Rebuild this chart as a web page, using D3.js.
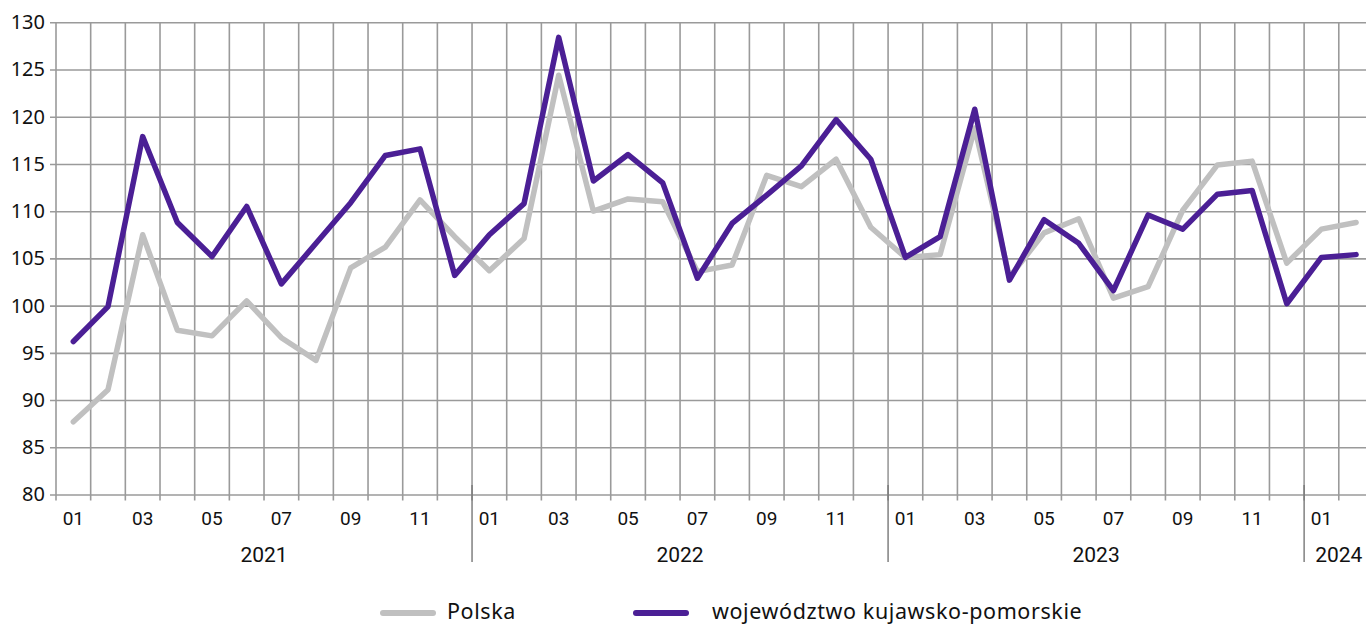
<!DOCTYPE html>
<html><head><meta charset="utf-8">
<script src="https://cdn.jsdelivr.net/npm/d3@7"></script>
<style>body{margin:0;background:#fff}svg{display:block}</style>
</head><body>
<svg id="c" width="1366" height="625"></svg>
<script>
const months = ["2021-01","2021-02","2021-03","2021-04","2021-05","2021-06","2021-07","2021-08","2021-09","2021-10","2021-11","2021-12",
"2022-01","2022-02","2022-03","2022-04","2022-05","2022-06","2022-07","2022-08","2022-09","2022-10","2022-11","2022-12",
"2023-01","2023-02","2023-03","2023-04","2023-05","2023-06","2023-07","2023-08","2023-09","2023-10","2023-11","2023-12",
"2024-01","2024-02"];
const polska = [87.7,91.1,107.5,97.4,96.8,100.5,96.6,94.2,104.0,106.2,111.2,107.3,
103.7,107.1,124.4,110.0,111.3,111.0,103.6,104.3,113.8,112.6,115.5,108.3,
105.1,105.4,118.8,103.0,107.7,109.2,100.8,102.0,110.1,114.9,115.3,104.5,
108.1,108.8];
const kujPom = [96.2,99.9,117.9,108.8,105.2,110.5,102.3,106.6,110.9,115.9,116.6,103.2,
107.5,110.8,128.4,113.2,116.0,113.0,102.9,108.7,111.7,114.8,119.7,115.5,
105.1,107.3,120.8,102.7,109.1,106.6,101.6,109.6,108.1,111.8,112.2,100.2,
105.1,105.4];
const yTicks = [80,85,90,95,100,105,110,115,120,125,130];
const years = ["2021","2022","2023","2024"];
const seriesNames = ["Polska","województwo kujawsko-pomorskie"];
const colors = ["#c0c0c0","#4b1f95"];

const svg = d3.select("#c");
const L = 56, R = 56 + 38*34.67, T = 22.3, B = 494.5;
const x = d3.scaleBand().domain(months).range([L, R]).padding(0);
const y = d3.scaleLinear().domain([80,130]).range([B, T]);
const cx = m => x(m) + x.bandwidth()/2;
const gridC = "#9a9a9a";

// horizontal grid + y labels
const yAxis = d3.axisLeft(y).tickValues(yTicks).tickSize(-(1366 - L)).tickSizeOuter(0).tickPadding(8);
const gy = svg.append("g").attr("transform",`translate(${L},0)`).call(yAxis);
gy.select(".domain").remove();
gy.selectAll(".tick line").attr("stroke",gridC).attr("stroke-width",1.6).attr("x1",-6);
gy.selectAll(".tick text").attr("font-family","'Noto Sans', sans-serif").attr("font-size",20).attr("fill","#111").attr("x",-11);

// vertical grid at band boundaries
const bounds = months.map(m => x(m)).concat([R]);
svg.append("g").selectAll("line").data(bounds).join("line")
  .attr("x1",d=>d).attr("x2",d=>d).attr("y1",T).attr("y2",B+6)
  .attr("stroke",gridC).attr("stroke-width",1.6);

// month labels (odd months)
svg.append("g").selectAll("text").data(months.filter(m => +m.slice(5) % 2 === 1)).join("text")
  .attr("x",d=>cx(d)).attr("y",525).attr("text-anchor","middle")
  .attr("font-family","'Liberation Sans Narrow','Roboto',sans-serif").attr("font-size",19).attr("fill","#111")
  .text(d=>d.slice(5));

// year separators and labels
years.forEach(yr => {
  const ms = months.filter(m => m.startsWith(yr));
  const x0 = x(ms[0]), x1 = x(ms[ms.length-1]) + x.bandwidth();
  if (yr !== "2021") {
    svg.append("line").attr("x1",x0).attr("x2",x0).attr("y1",485).attr("y2",562)
      .attr("stroke","#777").attr("stroke-width",1.4);
  }
  svg.append("text").attr("x",(x0+x1)/2).attr("y",562).attr("text-anchor","middle")
    .attr("font-family","'Liberation Sans Narrow','Roboto',sans-serif").attr("font-size",21).attr("fill","#111").text(yr);
});

// lines
const line = d3.line().x((d,i)=>cx(months[i])).y(d=>y(d));
[polska, kujPom].forEach((s,k) => {
  svg.append("path").datum(s).attr("d",line).attr("fill","none")
    .attr("stroke",colors[k]).attr("stroke-width",5.5).attr("stroke-linejoin","round").attr("stroke-linecap","round");
});

// legend
const legX = [383, 636];
seriesNames.forEach((n,k) => {
  svg.append("line").attr("x1",legX[k]).attr("x2",legX[k]+50).attr("y1",613).attr("y2",613)
    .attr("stroke",colors[k]).attr("stroke-width",6).attr("stroke-linecap","round");
  svg.append("text").attr("x",legX[k]+(k===0?64:76)).attr("y",619)
    .attr("font-family","'Noto Sans', sans-serif").attr("font-size",21.5).attr("letter-spacing","0.6")
    .attr("fill","#111").text(n);
});
</script>
</body></html>
